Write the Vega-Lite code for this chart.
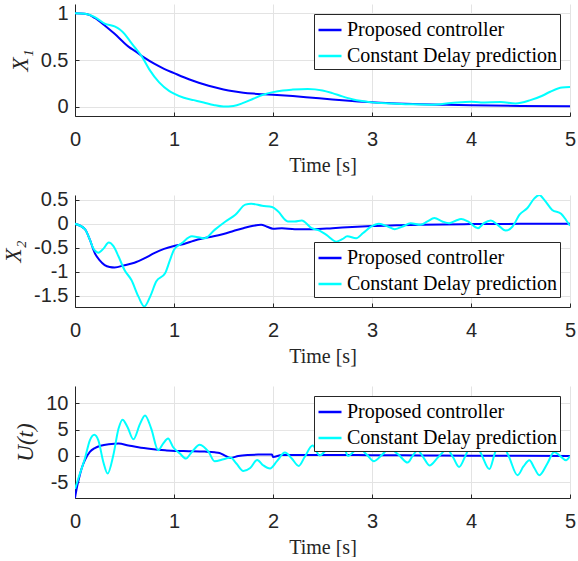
{
  "$schema": "https://vega.github.io/schema/vega-lite/v6.json",
  "padding": {"left": 2, "top": 3, "right": 0, "bottom": 0},
  "background": "white",
  "spacing": 79,
  "bounds": "flush",
  "config": {
    "view": {"stroke": null},
    "axis": {
      "labelFont": "Liberation Sans", "labelFontSize": 20, "labelColor": "#262626", "labelFlush": false,
      "titleFont": "Liberation Serif", "titleFontSize": 20, "titleFontWeight": "normal", "titleColor": "#262626",
      "domainColor": "#262626", "tickColor": "#262626", "gridColor": "#e3e3e3",
      "tickSize": -4, "tickWidth": 1
    },
    "axisX": {"labelPadding": 17, "titlePadding": 6, "labelAngle": 0},
    "axisY": {"labelPadding": 11, "titlePadding": 8, "titleFontSize": 23},
    "legend": {
      "title": null, "fillColor": "white", "strokeColor": "#262626", "padding": 3,
      "symbolType": "stroke", "symbolSize": 529, "symbolStrokeWidth": 2.5,
      "labelFont": "Liberation Serif", "labelFontSize": 20, "labelColor": "#000000", "labelLimit": 400,
      "rowPadding": 3, "labelOffset": 4, "offset": 10
    }
  },
  "resolve": {"scale": {"color": "independent"}},
  "datasets": {
    "x1": [
      {"t":0,"v":1,"series":"Proposed controller"},{"t":0.1,"v":0.995,"series":"Proposed controller"},{"t":0.15,"v":0.98,"series":"Proposed controller"},{"t":0.2,"v":0.95,"series":"Proposed controller"},{"t":0.3,"v":0.87,"series":"Proposed controller"},{"t":0.4,"v":0.78,"series":"Proposed controller"},{"t":0.5,"v":0.68,"series":"Proposed controller"},{"t":0.55,"v":0.635,"series":"Proposed controller"},{"t":0.6,"v":0.6,"series":"Proposed controller"},{"t":0.7,"v":0.525,"series":"Proposed controller"},{"t":0.8,"v":0.46,"series":"Proposed controller"},{"t":0.9,"v":0.405,"series":"Proposed controller"},{"t":1.0,"v":0.36,"series":"Proposed controller"},{"t":1.1,"v":0.315,"series":"Proposed controller"},{"t":1.2,"v":0.275,"series":"Proposed controller"},{"t":1.3,"v":0.24,"series":"Proposed controller"},{"t":1.4,"v":0.21,"series":"Proposed controller"},{"t":1.5,"v":0.185,"series":"Proposed controller"},{"t":1.6,"v":0.165,"series":"Proposed controller"},{"t":1.7,"v":0.15,"series":"Proposed controller"},{"t":1.8,"v":0.14,"series":"Proposed controller"},{"t":1.9,"v":0.133,"series":"Proposed controller"},{"t":2.0,"v":0.127,"series":"Proposed controller"},{"t":2.2,"v":0.113,"series":"Proposed controller"},{"t":2.4,"v":0.095,"series":"Proposed controller"},{"t":2.6,"v":0.077,"series":"Proposed controller"},{"t":2.8,"v":0.06,"series":"Proposed controller"},{"t":3.0,"v":0.046,"series":"Proposed controller"},{"t":3.25,"v":0.035,"series":"Proposed controller"},{"t":3.5,"v":0.026,"series":"Proposed controller"},{"t":3.75,"v":0.02,"series":"Proposed controller"},{"t":4.0,"v":0.015,"series":"Proposed controller"},{"t":4.5,"v":0.008,"series":"Proposed controller"},{"t":5.0,"v":0.004,"series":"Proposed controller"},
      {"t":0,"v":1,"series":"Constant Delay prediction"},{"t":0.1,"v":0.995,"series":"Constant Delay prediction"},{"t":0.2,"v":0.96,"series":"Constant Delay prediction"},{"t":0.3,"v":0.89,"series":"Constant Delay prediction"},{"t":0.4,"v":0.86,"series":"Constant Delay prediction"},{"t":0.45,"v":0.83,"series":"Constant Delay prediction"},{"t":0.5,"v":0.78,"series":"Constant Delay prediction"},{"t":0.55,"v":0.71,"series":"Constant Delay prediction"},{"t":0.6,"v":0.64,"series":"Constant Delay prediction"},{"t":0.67,"v":0.546,"series":"Constant Delay prediction"},{"t":0.75,"v":0.4,"series":"Constant Delay prediction"},{"t":0.85,"v":0.26,"series":"Constant Delay prediction"},{"t":0.95,"v":0.17,"series":"Constant Delay prediction"},{"t":1.0,"v":0.14,"series":"Constant Delay prediction"},{"t":1.1,"v":0.095,"series":"Constant Delay prediction"},{"t":1.2,"v":0.07,"series":"Constant Delay prediction"},{"t":1.3,"v":0.045,"series":"Constant Delay prediction"},{"t":1.4,"v":0.018,"series":"Constant Delay prediction"},{"t":1.5,"v":0.002,"series":"Constant Delay prediction"},{"t":1.6,"v":0.008,"series":"Constant Delay prediction"},{"t":1.7,"v":0.04,"series":"Constant Delay prediction"},{"t":1.8,"v":0.085,"series":"Constant Delay prediction"},{"t":1.9,"v":0.128,"series":"Constant Delay prediction"},{"t":2.0,"v":0.156,"series":"Constant Delay prediction"},{"t":2.1,"v":0.174,"series":"Constant Delay prediction"},{"t":2.2,"v":0.183,"series":"Constant Delay prediction"},{"t":2.35,"v":0.19,"series":"Constant Delay prediction"},{"t":2.5,"v":0.174,"series":"Constant Delay prediction"},{"t":2.6,"v":0.145,"series":"Constant Delay prediction"},{"t":2.7,"v":0.11,"series":"Constant Delay prediction"},{"t":2.8,"v":0.08,"series":"Constant Delay prediction"},{"t":2.9,"v":0.06,"series":"Constant Delay prediction"},{"t":3.0,"v":0.046,"series":"Constant Delay prediction"},{"t":3.2,"v":0.035,"series":"Constant Delay prediction"},{"t":3.4,"v":0.025,"series":"Constant Delay prediction"},{"t":3.6,"v":0.021,"series":"Constant Delay prediction"},{"t":3.8,"v":0.038,"series":"Constant Delay prediction"},{"t":4.0,"v":0.053,"series":"Constant Delay prediction"},{"t":4.1,"v":0.045,"series":"Constant Delay prediction"},{"t":4.3,"v":0.05,"series":"Constant Delay prediction"},{"t":4.45,"v":0.035,"series":"Constant Delay prediction"},{"t":4.6,"v":0.07,"series":"Constant Delay prediction"},{"t":4.72,"v":0.117,"series":"Constant Delay prediction"},{"t":4.8,"v":0.16,"series":"Constant Delay prediction"},{"t":4.92,"v":0.206,"series":"Constant Delay prediction"},{"t":5.0,"v":0.21,"series":"Constant Delay prediction"}
    ],
    "x2": [
      {"t":0,"v":0,"series":"Proposed controller"},{"t":0.1,"v":-0.11,"series":"Proposed controller"},{"t":0.15,"v":-0.33,"series":"Proposed controller"},{"t":0.2,"v":-0.61,"series":"Proposed controller"},{"t":0.25,"v":-0.76,"series":"Proposed controller"},{"t":0.3,"v":-0.86,"series":"Proposed controller"},{"t":0.35,"v":-0.9,"series":"Proposed controller"},{"t":0.4,"v":-0.91,"series":"Proposed controller"},{"t":0.5,"v":-0.86,"series":"Proposed controller"},{"t":0.6,"v":-0.81,"series":"Proposed controller"},{"t":0.7,"v":-0.72,"series":"Proposed controller"},{"t":0.8,"v":-0.61,"series":"Proposed controller"},{"t":0.9,"v":-0.52,"series":"Proposed controller"},{"t":1.0,"v":-0.46,"series":"Proposed controller"},{"t":1.1,"v":-0.42,"series":"Proposed controller"},{"t":1.2,"v":-0.35,"series":"Proposed controller"},{"t":1.3,"v":-0.3,"series":"Proposed controller"},{"t":1.4,"v":-0.26,"series":"Proposed controller"},{"t":1.5,"v":-0.21,"series":"Proposed controller"},{"t":1.6,"v":-0.15,"series":"Proposed controller"},{"t":1.7,"v":-0.09,"series":"Proposed controller"},{"t":1.8,"v":-0.04,"series":"Proposed controller"},{"t":1.88,"v":-0.02,"series":"Proposed controller"},{"t":1.94,"v":-0.06,"series":"Proposed controller"},{"t":2.0,"v":-0.1,"series":"Proposed controller"},{"t":2.09,"v":-0.09,"series":"Proposed controller"},{"t":2.22,"v":-0.11,"series":"Proposed controller"},{"t":2.4,"v":-0.11,"series":"Proposed controller"},{"t":2.6,"v":-0.09,"series":"Proposed controller"},{"t":2.8,"v":-0.065,"series":"Proposed controller"},{"t":3.0,"v":-0.045,"series":"Proposed controller"},{"t":3.25,"v":-0.03,"series":"Proposed controller"},{"t":3.5,"v":-0.017,"series":"Proposed controller"},{"t":4.0,"v":-0.005,"series":"Proposed controller"},{"t":4.5,"v":0,"series":"Proposed controller"},{"t":5.0,"v":0,"series":"Proposed controller"},
      {"t":0,"v":0,"series":"Constant Delay prediction"},{"t":0.1,"v":-0.11,"series":"Constant Delay prediction"},{"t":0.15,"v":-0.33,"series":"Constant Delay prediction"},{"t":0.185,"v":-0.51,"series":"Constant Delay prediction"},{"t":0.235,"v":-0.6,"series":"Constant Delay prediction"},{"t":0.29,"v":-0.51,"series":"Constant Delay prediction"},{"t":0.34,"v":-0.39,"series":"Constant Delay prediction"},{"t":0.39,"v":-0.47,"series":"Constant Delay prediction"},{"t":0.44,"v":-0.68,"series":"Constant Delay prediction"},{"t":0.5,"v":-0.96,"series":"Constant Delay prediction"},{"t":0.57,"v":-1.17,"series":"Constant Delay prediction"},{"t":0.64,"v":-1.51,"series":"Constant Delay prediction"},{"t":0.7,"v":-1.72,"series":"Constant Delay prediction"},{"t":0.76,"v":-1.51,"series":"Constant Delay prediction"},{"t":0.82,"v":-1.2,"series":"Constant Delay prediction"},{"t":0.91,"v":-1.03,"series":"Constant Delay prediction"},{"t":0.96,"v":-0.75,"series":"Constant Delay prediction"},{"t":1.0,"v":-0.54,"series":"Constant Delay prediction"},{"t":1.08,"v":-0.4,"series":"Constant Delay prediction"},{"t":1.18,"v":-0.26,"series":"Constant Delay prediction"},{"t":1.25,"v":-0.28,"series":"Constant Delay prediction"},{"t":1.31,"v":-0.3,"series":"Constant Delay prediction"},{"t":1.41,"v":-0.125,"series":"Constant Delay prediction"},{"t":1.52,"v":0.05,"series":"Constant Delay prediction"},{"t":1.62,"v":0.19,"series":"Constant Delay prediction"},{"t":1.72,"v":0.4,"series":"Constant Delay prediction"},{"t":1.78,"v":0.42,"series":"Constant Delay prediction"},{"t":1.89,"v":0.375,"series":"Constant Delay prediction"},{"t":1.99,"v":0.35,"series":"Constant Delay prediction"},{"t":2.05,"v":0.26,"series":"Constant Delay prediction"},{"t":2.15,"v":0.05,"series":"Constant Delay prediction"},{"t":2.22,"v":0.05,"series":"Constant Delay prediction"},{"t":2.29,"v":0.07,"series":"Constant Delay prediction"},{"t":2.39,"v":-0.09,"series":"Constant Delay prediction"},{"t":2.47,"v":-0.14,"series":"Constant Delay prediction"},{"t":2.54,"v":-0.23,"series":"Constant Delay prediction"},{"t":2.64,"v":-0.37,"series":"Constant Delay prediction"},{"t":2.7,"v":-0.32,"series":"Constant Delay prediction"},{"t":2.75,"v":-0.26,"series":"Constant Delay prediction"},{"t":2.84,"v":-0.3,"series":"Constant Delay prediction"},{"t":2.91,"v":-0.19,"series":"Constant Delay prediction"},{"t":2.99,"v":-0.06,"series":"Constant Delay prediction"},{"t":3.07,"v":0,"series":"Constant Delay prediction"},{"t":3.16,"v":-0.055,"series":"Constant Delay prediction"},{"t":3.23,"v":-0.11,"series":"Constant Delay prediction"},{"t":3.31,"v":-0.055,"series":"Constant Delay prediction"},{"t":3.39,"v":0.014,"series":"Constant Delay prediction"},{"t":3.49,"v":-0.02,"series":"Constant Delay prediction"},{"t":3.56,"v":0.05,"series":"Constant Delay prediction"},{"t":3.63,"v":0.12,"series":"Constant Delay prediction"},{"t":3.71,"v":0.05,"series":"Constant Delay prediction"},{"t":3.78,"v":0.014,"series":"Constant Delay prediction"},{"t":3.85,"v":0.07,"series":"Constant Delay prediction"},{"t":3.9,"v":0.1,"series":"Constant Delay prediction"},{"t":3.97,"v":0.05,"series":"Constant Delay prediction"},{"t":4.07,"v":-0.09,"series":"Constant Delay prediction"},{"t":4.13,"v":0.014,"series":"Constant Delay prediction"},{"t":4.2,"v":0.07,"series":"Constant Delay prediction"},{"t":4.27,"v":-0.02,"series":"Constant Delay prediction"},{"t":4.35,"v":-0.14,"series":"Constant Delay prediction"},{"t":4.42,"v":-0.055,"series":"Constant Delay prediction"},{"t":4.49,"v":0.19,"series":"Constant Delay prediction"},{"t":4.57,"v":0.33,"series":"Constant Delay prediction"},{"t":4.64,"v":0.53,"series":"Constant Delay prediction"},{"t":4.69,"v":0.6,"series":"Constant Delay prediction"},{"t":4.74,"v":0.5,"series":"Constant Delay prediction"},{"t":4.82,"v":0.29,"series":"Constant Delay prediction"},{"t":4.91,"v":0.21,"series":"Constant Delay prediction"},{"t":4.96,"v":0.08,"series":"Constant Delay prediction"},{"t":5.0,"v":-0.04,"series":"Constant Delay prediction"}
    ],
    "u": [
      {"t":0,"v":-7.97,"series":"Proposed controller"},{"t":0.017,"v":-6.2,"series":"Proposed controller"},{"t":0.04,"v":-4.3,"series":"Proposed controller"},{"t":0.067,"v":-2.4,"series":"Proposed controller"},{"t":0.1,"v":-0.8,"series":"Proposed controller"},{"t":0.15,"v":0.76,"series":"Proposed controller"},{"t":0.2,"v":1.5,"series":"Proposed controller"},{"t":0.27,"v":2.0,"series":"Proposed controller"},{"t":0.34,"v":2.2,"series":"Proposed controller"},{"t":0.44,"v":2.35,"series":"Proposed controller"},{"t":0.54,"v":2.0,"series":"Proposed controller"},{"t":0.64,"v":1.65,"series":"Proposed controller"},{"t":0.77,"v":1.33,"series":"Proposed controller"},{"t":0.91,"v":1.08,"series":"Proposed controller"},{"t":1.01,"v":0.95,"series":"Proposed controller"},{"t":1.15,"v":0.9,"series":"Proposed controller"},{"t":1.31,"v":0.82,"series":"Proposed controller"},{"t":1.41,"v":0.7,"series":"Proposed controller"},{"t":1.46,"v":0.57,"series":"Proposed controller"},{"t":1.52,"v":0,"series":"Proposed controller"},{"t":1.57,"v":-0.38,"series":"Proposed controller"},{"t":1.65,"v":0,"series":"Proposed controller"},{"t":1.75,"v":0.19,"series":"Proposed controller"},{"t":1.85,"v":0.25,"series":"Proposed controller"},{"t":1.99,"v":0.25,"series":"Proposed controller"},{"t":2.0,"v":-0.2,"series":"Proposed controller"},{"t":2.09,"v":0.19,"series":"Proposed controller"},{"t":2.5,"v":0.19,"series":"Proposed controller"},{"t":3.0,"v":0.15,"series":"Proposed controller"},{"t":3.5,"v":0.1,"series":"Proposed controller"},{"t":4.0,"v":0.05,"series":"Proposed controller"},{"t":4.5,"v":0.02,"series":"Proposed controller"},{"t":5.0,"v":0,"series":"Proposed controller"},
      {"t":0,"v":-6.3,"series":"Constant Delay prediction"},{"t":0.05,"v":-3.35,"series":"Constant Delay prediction"},{"t":0.1,"v":-0.5,"series":"Constant Delay prediction"},{"t":0.15,"v":2.97,"series":"Constant Delay prediction"},{"t":0.195,"v":4.05,"series":"Constant Delay prediction"},{"t":0.236,"v":2.97,"series":"Constant Delay prediction"},{"t":0.286,"v":-1.14,"series":"Constant Delay prediction"},{"t":0.33,"v":-3.35,"series":"Constant Delay prediction"},{"t":0.387,"v":0.13,"series":"Constant Delay prediction"},{"t":0.44,"v":5.2,"series":"Constant Delay prediction"},{"t":0.48,"v":6.9,"series":"Constant Delay prediction"},{"t":0.53,"v":5.5,"series":"Constant Delay prediction"},{"t":0.59,"v":3.16,"series":"Constant Delay prediction"},{"t":0.657,"v":6.1,"series":"Constant Delay prediction"},{"t":0.707,"v":7.7,"series":"Constant Delay prediction"},{"t":0.77,"v":5.2,"series":"Constant Delay prediction"},{"t":0.84,"v":1.08,"series":"Constant Delay prediction"},{"t":0.89,"v":2.34,"series":"Constant Delay prediction"},{"t":0.94,"v":3.3,"series":"Constant Delay prediction"},{"t":0.99,"v":1.7,"series":"Constant Delay prediction"},{"t":1.06,"v":0.44,"series":"Constant Delay prediction"},{"t":1.12,"v":-0.5,"series":"Constant Delay prediction"},{"t":1.18,"v":0.76,"series":"Constant Delay prediction"},{"t":1.26,"v":2.15,"series":"Constant Delay prediction"},{"t":1.35,"v":0.76,"series":"Constant Delay prediction"},{"t":1.41,"v":-1.0,"series":"Constant Delay prediction"},{"t":1.5,"v":-0.63,"series":"Constant Delay prediction"},{"t":1.57,"v":-0.3,"series":"Constant Delay prediction"},{"t":1.63,"v":-1.45,"series":"Constant Delay prediction"},{"t":1.7,"v":-2.85,"series":"Constant Delay prediction"},{"t":1.77,"v":-2.3,"series":"Constant Delay prediction"},{"t":1.84,"v":-0.76,"series":"Constant Delay prediction"},{"t":1.9,"v":-1.77,"series":"Constant Delay prediction"},{"t":1.97,"v":-2.4,"series":"Constant Delay prediction"},{"t":2.04,"v":-1.0,"series":"Constant Delay prediction"},{"t":2.12,"v":0.63,"series":"Constant Delay prediction"},{"t":2.19,"v":-0.5,"series":"Constant Delay prediction"},{"t":2.26,"v":-1.9,"series":"Constant Delay prediction"},{"t":2.32,"v":-0.2,"series":"Constant Delay prediction"},{"t":2.4,"v":2.0,"series":"Constant Delay prediction"},{"t":2.47,"v":0.1,"series":"Constant Delay prediction"},{"t":2.54,"v":1.2,"series":"Constant Delay prediction"},{"t":2.6,"v":2.5,"series":"Constant Delay prediction"},{"t":2.67,"v":3.2,"series":"Constant Delay prediction"},{"t":2.72,"v":1.5,"series":"Constant Delay prediction"},{"t":2.76,"v":0,"series":"Constant Delay prediction"},{"t":2.82,"v":0.9,"series":"Constant Delay prediction"},{"t":2.87,"v":1.4,"series":"Constant Delay prediction"},{"t":2.95,"v":0.2,"series":"Constant Delay prediction"},{"t":3.02,"v":-1.0,"series":"Constant Delay prediction"},{"t":3.1,"v":0.2,"series":"Constant Delay prediction"},{"t":3.175,"v":1.4,"series":"Constant Delay prediction"},{"t":3.27,"v":0.2,"series":"Constant Delay prediction"},{"t":3.36,"v":-1.27,"series":"Constant Delay prediction"},{"t":3.41,"v":0,"series":"Constant Delay prediction"},{"t":3.46,"v":1.1,"series":"Constant Delay prediction"},{"t":3.52,"v":-0.3,"series":"Constant Delay prediction"},{"t":3.58,"v":-1.8,"series":"Constant Delay prediction"},{"t":3.67,"v":-0.2,"series":"Constant Delay prediction"},{"t":3.76,"v":1.2,"series":"Constant Delay prediction"},{"t":3.82,"v":-0.3,"series":"Constant Delay prediction"},{"t":3.88,"v":-2.1,"series":"Constant Delay prediction"},{"t":3.95,"v":0.3,"series":"Constant Delay prediction"},{"t":4.02,"v":3.0,"series":"Constant Delay prediction"},{"t":4.1,"v":0.5,"series":"Constant Delay prediction"},{"t":4.185,"v":-2.5,"series":"Constant Delay prediction"},{"t":4.24,"v":0.5,"series":"Constant Delay prediction"},{"t":4.29,"v":3.0,"series":"Constant Delay prediction"},{"t":4.38,"v":0,"series":"Constant Delay prediction"},{"t":4.47,"v":-3.67,"series":"Constant Delay prediction"},{"t":4.53,"v":-2.0,"series":"Constant Delay prediction"},{"t":4.59,"v":-0.82,"series":"Constant Delay prediction"},{"t":4.64,"v":-2.3,"series":"Constant Delay prediction"},{"t":4.69,"v":-3.67,"series":"Constant Delay prediction"},{"t":4.77,"v":-1.5,"series":"Constant Delay prediction"},{"t":4.84,"v":0.76,"series":"Constant Delay prediction"},{"t":4.9,"v":0,"series":"Constant Delay prediction"},{"t":4.96,"v":-0.82,"series":"Constant Delay prediction"},{"t":5.0,"v":0,"series":"Constant Delay prediction"}
    ]
  },
  "vconcat": [
    {
      "width": 495, "height": 112,
      "data": {"name": "x1"},
      "encoding": {
        "x": {"field": "t", "type": "quantitative", "scale": {"domain": [0, 5], "nice": false}, "axis": {"title": "Time [s]", "values": [0,1,2,3,4,5], "labelExpr": "'' + datum.value"}},
        "y": {"field": "v", "type": "quantitative", "scale": {"domain": [-0.1, 1.1], "nice": false, "zero": false}, "axis": {"title": "X₁", "titleFontStyle": "italic", "values": [0, 0.5, 1], "labelExpr": "'' + datum.value"}},
        "color": {"field": "series", "type": "nominal", "scale": {"domain": ["Proposed controller", "Constant Delay prediction"], "range": ["#0000ff", "#00ffff"]}, "legend": {"orient": "top-right"}}
      },
      "layer": [
        {"transform": [{"filter": "datum.series === 'Proposed controller'"}], "mark": {"type": "line", "strokeWidth": 2, "interpolate": "monotone", "clip": true}},
        {"transform": [{"filter": "datum.series === 'Constant Delay prediction'"}], "mark": {"type": "line", "strokeWidth": 2, "interpolate": "monotone", "clip": true}}
      ]
    },
    {
      "width": 495, "height": 112,
      "data": {"name": "x2"},
      "encoding": {
        "x": {"field": "t", "type": "quantitative", "scale": {"domain": [0, 5], "nice": false}, "axis": {"title": "Time [s]", "values": [0,1,2,3,4,5], "labelExpr": "'' + datum.value"}},
        "y": {"field": "v", "type": "quantitative", "scale": {"domain": [-1.73, 0.6], "nice": false, "zero": false}, "axis": {"title": "X₂", "titleFontStyle": "italic", "values": [-1.5, -1, -0.5, 0, 0.5], "labelExpr": "'' + datum.value"}},
        "color": {"field": "series", "type": "nominal", "scale": {"domain": ["Proposed controller", "Constant Delay prediction"], "range": ["#0000ff", "#00ffff"]}, "legend": {"orient": "bottom-right"}}
      },
      "layer": [
        {"transform": [{"filter": "datum.series === 'Proposed controller'"}], "mark": {"type": "line", "strokeWidth": 2, "interpolate": "monotone", "clip": true}},
        {"transform": [{"filter": "datum.series === 'Constant Delay prediction'"}], "mark": {"type": "line", "strokeWidth": 2, "interpolate": "monotone", "clip": true}}
      ]
    },
    {
      "width": 495, "height": 112,
      "data": {"name": "u"},
      "encoding": {
        "x": {"field": "t", "type": "quantitative", "scale": {"domain": [0, 5], "nice": false}, "axis": {"title": "Time [s]", "values": [0,1,2,3,4,5], "labelExpr": "'' + datum.value"}},
        "y": {"field": "v", "type": "quantitative", "scale": {"domain": [-8, 13.3], "nice": false, "zero": false}, "axis": {"title": "U(t)", "titleFontStyle": "italic", "values": [-5, 0, 5, 10], "labelExpr": "'' + datum.value"}},
        "color": {"field": "series", "type": "nominal", "scale": {"domain": ["Proposed controller", "Constant Delay prediction"], "range": ["#0000ff", "#00ffff"]}, "legend": {"orient": "top-right"}}
      },
      "layer": [
        {"transform": [{"filter": "datum.series === 'Proposed controller'"}], "mark": {"type": "line", "strokeWidth": 2, "interpolate": "monotone", "clip": true}},
        {"transform": [{"filter": "datum.series === 'Constant Delay prediction'"}], "mark": {"type": "line", "strokeWidth": 2, "interpolate": "monotone", "clip": true}}
      ]
    }
  ]
}
